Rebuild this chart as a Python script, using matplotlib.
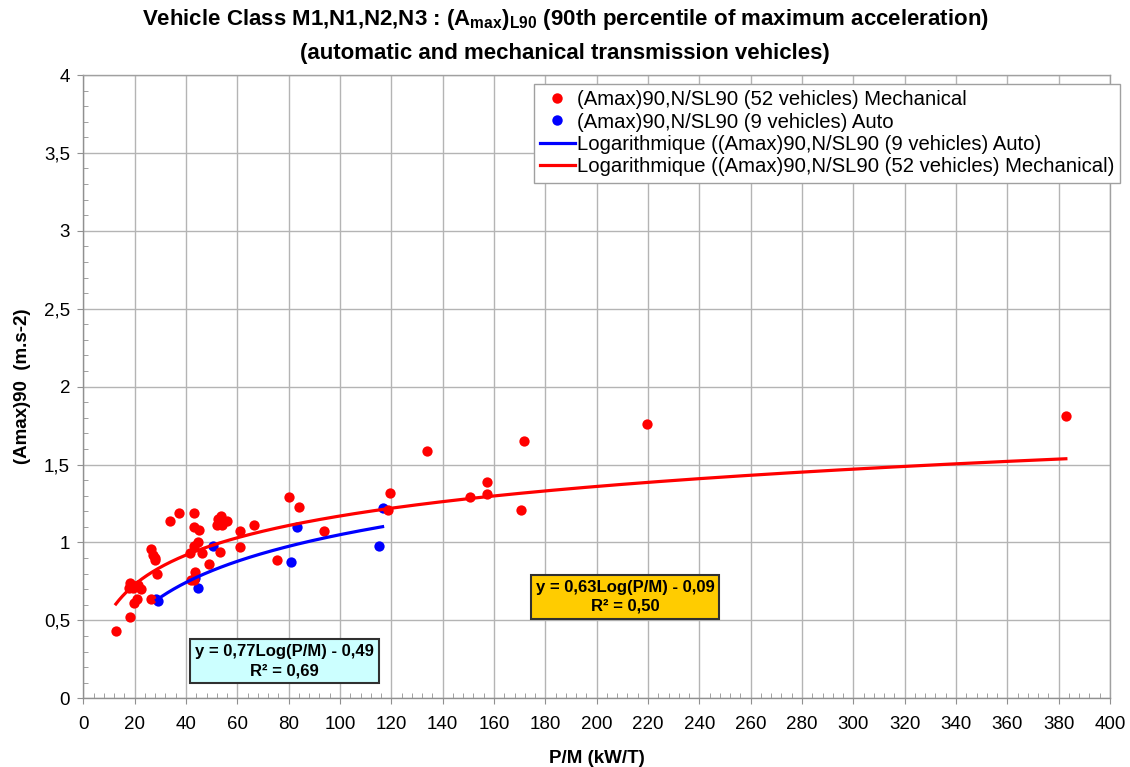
import numpy as np
import matplotlib
matplotlib.use("Agg")
import matplotlib.pyplot as plt
from matplotlib.ticker import MultipleLocator, FuncFormatter
from matplotlib.lines import Line2D

# ---------------- data ----------------
mech_pm = [12.7, 18.2, 19.9, 20.8, 18.2, 17.8, 21.4, 22.5, 19.5, 26.4,
           28.6, 26.4, 27.3, 27.9, 33.8, 37.3, 43.2, 43.2, 45.2, 43.2,
           41.6, 46.4, 43.5, 42.0, 43.2, 49.0, 53.3, 52.0, 53.6, 55.9,
           54.2, 61.0, 61.0, 66.5, 75.3, 80.3, 84.2, 93.8, 119.5, 118.8,
           133.8, 150.6, 157.1, 157.1, 171.7, 170.5, 219.5, 382.8, 44.5, 20.0,
           28.0, 52.5]
mech_amax = [0.43, 0.52, 0.61, 0.64, 0.74, 0.71, 0.73, 0.70, 0.71, 0.635,
             0.80, 0.96, 0.92, 0.89, 1.14, 1.19, 1.19, 1.10, 1.08, 0.98,
             0.93, 0.93, 0.81, 0.76, 0.76, 0.86, 0.94, 1.11, 1.17, 1.14,
             1.11, 1.075, 0.97, 1.115, 0.89, 1.295, 1.225, 1.075, 1.32, 1.21,
             1.59, 1.29, 1.385, 1.31, 1.65, 1.21, 1.76, 1.81, 1.00, 0.72,
             0.90, 1.15]

auto_pm = [29.2, 44.8, 50.6, 80.9, 83.1, 115.3, 116.6, 43.5, 28.5]
auto_amax = [0.625, 0.71, 0.98, 0.875, 1.10, 0.98, 1.22, 0.77, 0.64]

# trend line coefficients (y = a*Log(P/M) + b), as printed on the chart
mech_a, mech_b, mech_r2 = 0.63, -0.09, 0.50
auto_a, auto_b, auto_r2 = 0.77, -0.49, 0.69

lbl_mech = "(Amax)90,N/SL90 (52 vehicles) Mechanical"
lbl_auto = "(Amax)90,N/SL90 (9 vehicles) Auto"
lbl_tr_auto = "Logarithmique ((Amax)90,N/SL90 (9 vehicles) Auto)"
lbl_tr_mech = "Logarithmique ((Amax)90,N/SL90 (52 vehicles) Mechanical)"

# ---------------- style ----------------
plt.rcParams['font.family'] = ['Liberation Sans', 'DejaVu Sans']
plt.rcParams['mathtext.fontset'] = 'custom'
plt.rcParams['mathtext.bf'] = 'Liberation Sans:bold'
plt.rcParams['mathtext.rm'] = 'Liberation Sans:bold'
plt.rcParams['mathtext.it'] = 'Liberation Sans:bold'

W, H = 1130, 767
fig = plt.figure(figsize=(W / 100, H / 100), dpi=100)
x0, x1, y0, y1 = 83.3, 1110, 75, 698.3
ax = fig.add_axes([x0 / W, 1 - y1 / H, (x1 - x0) / W, (y1 - y0) / H])

ax.set_xlim(0, 400)
ax.set_ylim(0, 4)
ax.xaxis.set_major_locator(MultipleLocator(20))
ax.xaxis.set_minor_locator(MultipleLocator(4))
ax.yaxis.set_major_locator(MultipleLocator(0.5))
ax.yaxis.set_minor_locator(MultipleLocator(0.1))
fmt = FuncFormatter(lambda v, p: f"{v:g}".replace('.', ','))
ax.xaxis.set_major_formatter(fmt)
ax.yaxis.set_major_formatter(fmt)

ax.grid(True, which='major', color='#b4b4b4', linewidth=1.0)
ax.set_axisbelow(True)
for s in ax.spines.values():
    s.set_color('#a0a0a0')
    s.set_linewidth(1.0)
ax.spines['left'].set_color('#909090')
ax.spines['bottom'].set_color('#909090')

ax.tick_params(axis='both', which='major', direction='out', length=4.5,
               color='#909090', labelsize=13.5, labelcolor='black')
ax.tick_params(axis='both', which='minor', direction='in', length=3.5,
               color='#909090')
ax.tick_params(axis='x', which='major', pad=8)
ax.tick_params(axis='y', which='major', pad=5)

# points
ax.scatter(auto_pm, auto_amax, s=55, color='#0000ff', zorder=3, linewidths=0)
ax.scatter(mech_pm, mech_amax, s=55, color='#ff0000', zorder=4, linewidths=0)

# trend lines
xa = np.geomspace(min(auto_pm), max(auto_pm), 200)
ax.plot(xa, auto_a * np.log10(xa) + auto_b, color='#0000ff', lw=2.3, zorder=5)
xm = np.geomspace(min(mech_pm), max(mech_pm), 300)
ax.plot(xm, mech_a * np.log10(xm) + mech_b, color='#ff0000', lw=2.3, zorder=5)

# equation boxes
def fmt_num(v):
    return f"{abs(v):.2f}".replace('.', ',')

auto_txt = f"y = {fmt_num(auto_a)}Log(P/M) - {fmt_num(auto_b)}\nR² = {fmt_num(auto_r2)}"
mech_txt = f"y = {fmt_num(mech_a)}Log(P/M) - {fmt_num(mech_b)}\nR² = {fmt_num(mech_r2)}"
ax.text(78.4, 0.239, auto_txt, ha='center', va='center', fontsize=12,
        fontweight='bold', linespacing=1.35, zorder=6,
        bbox=dict(boxstyle='square,pad=0.3', facecolor='#ccffff',
                  edgecolor='#303030', linewidth=1.5))
ax.text(211, 0.652, mech_txt, ha='center', va='center', fontsize=12,
        fontweight='bold', linespacing=1.35, zorder=6,
        bbox=dict(boxstyle='square,pad=0.3', facecolor='#ffcc00',
                  edgecolor='#303030', linewidth=1.5))

# legend
handles = [
    Line2D([], [], linestyle='none', marker='o', markersize=7.5,
           color='#ff0000', markeredgewidth=0),
    Line2D([], [], linestyle='none', marker='o', markersize=7.5,
           color='#0000ff', markeredgewidth=0),
    Line2D([], [], color='#0000ff', lw=2.3),
    Line2D([], [], color='#ff0000', lw=2.3),
]
leg = fig.legend(handles, [lbl_mech, lbl_auto, lbl_tr_auto, lbl_tr_mech],
                 loc='upper right', bbox_to_anchor=(1120 / W, 1 - 84 / H),
                 bbox_transform=fig.transFigure, fontsize=14.6, frameon=True,
                 fancybox=False, edgecolor='#a0a0a0', framealpha=1,
                 handlelength=1.7, handletextpad=0.1, labelspacing=0.17,
                 borderpad=0.3, borderaxespad=0)
leg.get_frame().set_linewidth(1.0)

# axis labels
ax.set_xlabel("P/M (kW/T)", fontsize=13.5, fontweight='bold')
ax.xaxis.set_label_coords(0.5, -(750 - y1) / (y1 - y0))
ax.set_ylabel("(Amax)90  (m.s-2)", fontsize=13.5, fontweight='bold')
ax.yaxis.set_label_coords((31 - x0) / (x1 - x0), 0.5)

# title
fig.text(0.5, 1 - 20 / H,
         r"Vehicle Class M1,N1,N2,N3 : $\mathbf{(A_{max})_{L90}}$ (90th percentile of maximum acceleration)",
         ha='center', va='center', fontsize=16, fontweight='bold')
fig.text(0.5, 1 - 53 / H,
         "(automatic and mechanical transmission vehicles)",
         ha='center', va='center', fontsize=16, fontweight='bold')

fig.savefig("out.png", dpi=100)
